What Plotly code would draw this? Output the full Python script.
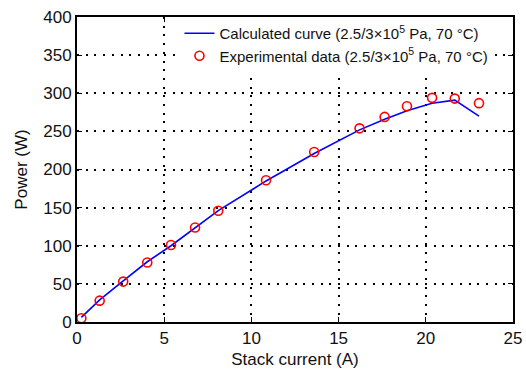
import plotly.graph_objects as go

current_exp = [0.25, 1.3, 2.65, 4.03, 5.39, 6.77, 8.1, 10.84, 13.6, 16.2, 17.64, 18.92, 20.36, 21.66, 23.05]
power_exp = [5, 28, 53, 78, 101, 124, 146, 186, 223, 254, 269, 283, 294, 293, 287]
current_calc = [0.25, 1.3, 2.65, 4.03, 5.39, 6.77, 8.1, 10.84, 13.6, 16.2, 17.64, 18.92, 20.36, 21.66, 23.05]
power_calc = [6, 29, 54, 79, 100, 123, 146, 185, 221, 252, 266, 277, 287, 291, 270]

x_ticks = [0, 5, 10, 15, 20, 25]
y_ticks = [0, 50, 100, 150, 200, 250, 300, 350, 400]

fig = go.Figure()
fig.add_trace(go.Scatter(
    x=current_calc, y=power_calc, mode="lines",
    line=dict(color="#0000ff", width=1.6),
    name="Calculated curve (2.5/3×10<sup>5</sup> Pa, 70 °C)"))
fig.add_trace(go.Scatter(
    x=current_exp, y=power_exp, mode="markers",
    marker=dict(symbol="circle-open", color="#ff0000", size=9, line=dict(width=1.6, color="#ff0000")),
    name="Experimental data (2.5/3×10<sup>5</sup> Pa, 70 °C)"))

axis_common = dict(
    showline=True, linecolor="black", linewidth=2, mirror="ticks",
    ticks="inside", ticklen=5, tickwidth=1, tickcolor="black",
    showgrid=True, gridcolor="black", gridwidth=2, griddash="2px,6.7px",
    zeroline=False, tickfont=dict(size=17, color="#111"), automargin=False,
)

fig.update_xaxes(range=[0, 25], tickvals=x_ticks,
                 title=dict(text="Stack current (A)", font=dict(size=17, color="#111"), standoff=10),
                 **axis_common)
fig.update_yaxes(range=[0, 400], tickvals=y_ticks,
                 title=dict(text="Power (W)", font=dict(size=17, color="#111"), standoff=11),
                 **axis_common)

fig.update_layout(
    width=526, height=369,
    margin=dict(l=77, r=13, t=17, b=47),
    paper_bgcolor="white", plot_bgcolor="white",
    font=dict(family="Liberation Sans, Arial, sans-serif", color="#111"),
    legend=dict(x=0.235, y=1.0, xanchor="left", yanchor="top",
                bgcolor="rgba(255,255,255,1)", borderwidth=0,
                font=dict(size=15), tracegroupgap=0, itemwidth=30),
    showlegend=True,
)

fig.write_html("out.html")
